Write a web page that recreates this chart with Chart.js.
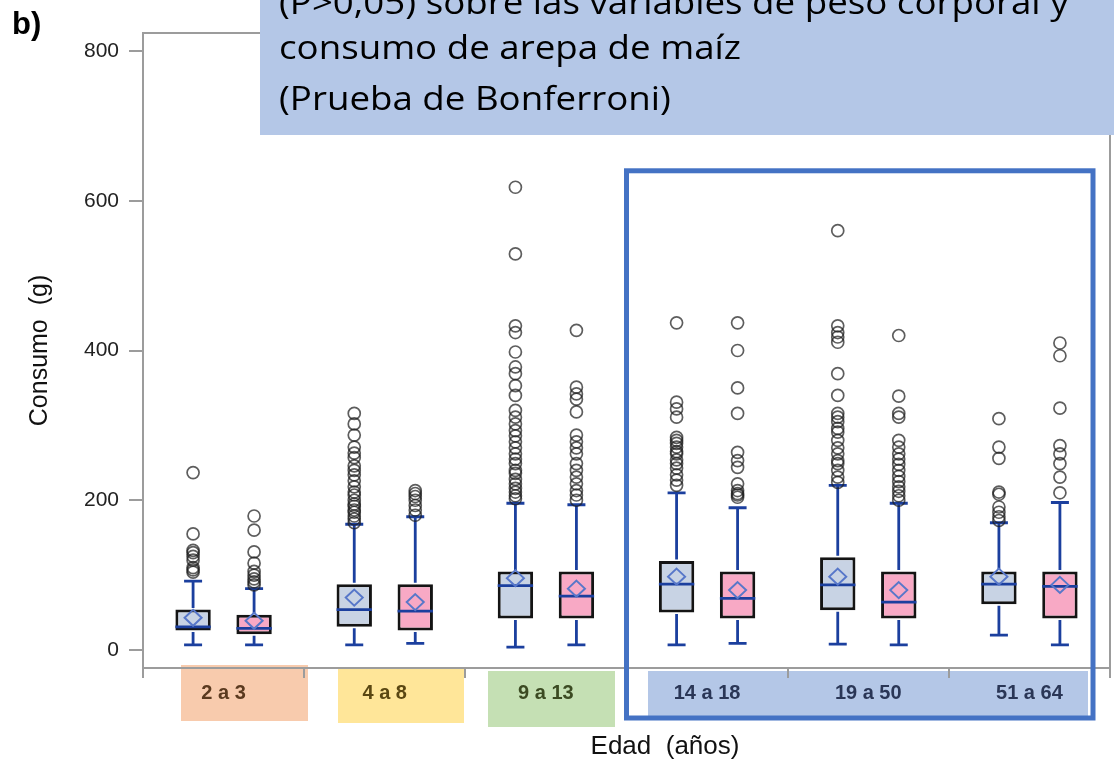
<!DOCTYPE html>
<html>
<head>
<meta charset="utf-8">
<script src="https://cdn.jsdelivr.net/npm/chart.js@4.4.1/dist/chart.umd.min.js"></script>
<style>
  html, body { margin: 0; padding: 0; background: #ffffff; }
  canvas { display: block; }
</style>
</head>
<body>
<canvas id="chart" width="1114" height="764"></canvas>
<script>
// Age groups (x categories)
const groups = ['2 a 3', '4 a 8', '9 a 13', '14 a 18', '19 a 50', '51 a 64'];

// Y axis ticks (g)
const yTicks = [0, 200, 400, 600, 800];

// Males: box statistics per age group (g)
const q1M   = [26, 31, 42, 50, 53, 61];
const medM  = [31, 54, 86, 88, 87, 88];
const q3M   = [54, 88, 105, 119, 124, 105];
const meanM = [43, 70, 96, 98, 98, 98];
const loM   = [7, 7, 4, 7, 8, 20];
const hiM   = [92, 168, 196, 210, 220, 170];
const outM = [
  [104, 107, 110, 120, 125, 130, 133, 155, 237],
  [170, 175, 179, 184, 187, 192, 195, 200, 207, 211, 218, 226, 234, 240, 246, 257, 263, 271, 287, 302, 316],
  [202, 206, 211, 216, 222, 228, 236, 240, 249, 255, 262, 270, 278, 286, 293, 302, 311, 320, 340, 353, 369, 378, 398, 424, 433, 529, 618],
  [220, 227, 234, 243, 249, 254, 262, 265, 271, 276, 280, 284, 311, 322, 331, 437],
  [224, 231, 240, 249, 253, 262, 270, 280, 291, 296, 305, 311, 316, 340, 369, 411, 418, 424, 433, 560],
  [173, 178, 184, 191, 208, 211, 256, 271, 309]
];

// Females: box statistics per age group (g)
const q1F   = [21, 26, 42, 42, 42, 42];
const medF  = [29, 52, 72, 69, 64, 85];
const q3F   = [47, 88, 105, 105, 105, 105];
const meanF = [39, 64, 82, 80, 80, 87];
const loF   = [7, 9, 7, 9, 7, 7];
const hiF   = [82, 178, 194, 190, 196, 197];
const outF = [
  [87, 91, 95, 100, 105, 116, 131, 160, 179],
  [180, 187, 193, 200, 205, 209, 213],
  [200, 207, 213, 222, 231, 240, 249, 262, 270, 278, 287, 318, 335, 342, 351, 427],
  [204, 207, 209, 213, 222, 244, 253, 264, 316, 350, 400, 437],
  [200, 206, 212, 218, 225, 232, 240, 248, 255, 262, 271, 280, 311, 316, 339, 420],
  [210, 231, 249, 262, 273, 323, 393, 410]
];

// Header text
const headerLines = [
  '(P>0,05) sobre las variables de peso corporal y',
  'consumo de arepa de maíz',
  '(Prueba de Bonferroni)'
];

const SANS = '"Liberation Sans", Arial, sans-serif';
const AXIS_GREY = '#9c9c9c';
const WHISKER = '#1b3f9e';
const MEAN_BLUE = '#5777c9';

// Coloured blocks behind the age-group labels
const labelBlocks = [
  { x: 181, y: 665, w: 127, h: 56, color: '#f8cbad' },
  { x: 338, y: 667, w: 126, h: 56, color: '#ffe699' },
  { x: 488, y: 671, w: 127, h: 56, color: '#c5e0b4' },
  { x: 648, y: 671, w: 440, h: 47, color: '#b4c7e7' }
];

const boxPlot = {
  id: 'boxPlot',
  beforeDraw(chart) {
    const c = chart.ctx;
    c.save();
    labelBlocks.forEach(b => {
      c.fillStyle = b.color;
      c.fillRect(b.x, b.y, b.w, b.h);
    });
    c.restore();
  },
  afterDatasetsDraw(chart) {
    const c = chart.ctx;
    const y = chart.scales.y;
    const series = [
      { lo: loM, hi: hiM, q1: q1M, q3: q3M, med: medM, mean: meanM, out: outM },
      { lo: loF, hi: hiF, q1: q1F, q3: q3F, med: medF, mean: meanF, out: outF }
    ];
    c.save();
    series.forEach((s, di) => {
      const meta = chart.getDatasetMeta(di);
      meta.data.forEach((el, i) => {
        const x = el.x;
        const half = el.width / 2;
        const cap = 9;
        const yHi = y.getPixelForValue(s.hi[i]);
        const yLo = y.getPixelForValue(s.lo[i]);
        c.strokeStyle = WHISKER;
        c.lineWidth = 2.8;
        c.lineCap = 'butt';
        // whiskers with caps
        c.beginPath();
        c.moveTo(x, y.getPixelForValue(s.q3[i]) - 1.5);
        c.lineTo(x, yHi);
        c.moveTo(x - cap, yHi);
        c.lineTo(x + cap, yHi);
        c.moveTo(x, y.getPixelForValue(s.q1[i]) + 1.5);
        c.lineTo(x, yLo);
        c.moveTo(x - cap, yLo);
        c.lineTo(x + cap, yLo);
        c.stroke();
        // median
        const ym = y.getPixelForValue(s.med[i]);
        c.beginPath();
        c.moveTo(x - half, ym);
        c.lineTo(x + half, ym);
        c.stroke();
        // mean diamond
        const ya = y.getPixelForValue(s.mean[i]);
        c.strokeStyle = MEAN_BLUE;
        c.lineWidth = 2;
        c.beginPath();
        c.moveTo(x, ya - 8);
        c.lineTo(x + 8.5, ya);
        c.lineTo(x, ya + 8);
        c.lineTo(x - 8.5, ya);
        c.closePath();
        c.stroke();
        // outliers
        c.strokeStyle = 'rgba(30,30,30,0.72)';
        c.lineWidth = 1.7;
        s.out[i].forEach(v => {
          c.beginPath();
          c.arc(x, y.getPixelForValue(v), 6, 0, Math.PI * 2);
          c.stroke();
        });
      });
    });
    c.restore();
  },
  afterDraw(chart) {
    const c = chart.ctx;
    const a = chart.chartArea;
    const x = chart.scales.x;
    const y = chart.scales.y;
    c.save();
    // plot frame: top and right edges
    c.strokeStyle = AXIS_GREY;
    c.lineWidth = 2;
    c.beginPath();
    c.moveTo(a.left, a.top);
    c.lineTo(a.right, a.top);
    c.lineTo(a.right, a.bottom);
    c.stroke();

    // highlight around the three oldest groups
    const step = (a.right - a.left) / groups.length;
    const hx = x.getPixelForValue(3) - step / 2;
    const hy = y.getPixelForValue(640);
    c.strokeStyle = '#4472c4';
    c.lineWidth = 5;
    c.strokeRect(hx, hy, a.right - 17 - hx, a.bottom + 50 - hy);

    // header box
    c.fillStyle = '#b4c7e7';
    c.fillRect(260, 0, chart.width - 260, 135);
    c.fillStyle = '#000000';
    c.font = '33px "Open Sans", "Noto Sans", sans-serif';
    c.textBaseline = 'alphabetic';
    c.textAlign = 'left';
    const sx = 462 / c.measureText(headerLines[1]).width;
    const baselines = [14, 59, 110];
    headerLines.forEach((t, i) => {
      c.save();
      c.translate(279, baselines[i]);
      c.scale(sx, 1);
      c.fillText(t, 0, 0);
      c.restore();
    });

    // panel letter
    c.fillStyle = '#000000';
    c.font = 'bold 31px ' + SANS;
    c.fillText('b)', 12, 34);

    // x axis title
    c.fillStyle = '#111111';
    c.font = '26px ' + SANS;
    c.textAlign = 'center';
    c.textBaseline = 'middle';
    c.fillText('Edad  (años)', 665, 747);
    c.restore();
  }
};

const ctx = document.getElementById('chart').getContext('2d');
new Chart(ctx, {
  type: 'bar',
  data: {
    labels: groups,
    datasets: [
      {
        label: 'Masculino',
        data: q1M.map((v, i) => [v, q3M[i]]),
        backgroundColor: '#c8d3e4',
        borderColor: '#141414',
        borderWidth: 3,
        borderSkipped: false,
        categoryPercentage: 0.757,
        barPercentage: 0.58
      },
      {
        label: 'Femenino',
        data: q1F.map((v, i) => [v, q3F[i]]),
        backgroundColor: '#f8a9c5',
        borderColor: '#141414',
        borderWidth: 3,
        borderSkipped: false,
        categoryPercentage: 0.757,
        barPercentage: 0.58
      }
    ]
  },
  options: {
    responsive: false,
    animation: false,
    devicePixelRatio: 1,
    layout: { padding: { left: 0, right: 4, top: 33, bottom: 0 } },
    plugins: { legend: { display: false }, tooltip: { enabled: false } },
    scales: {
      x: {
        grid: { offset: true, drawOnChartArea: false, tickLength: 10, color: AXIS_GREY, lineWidth: 2 },
        border: { color: AXIS_GREY, width: 2 },
        ticks: {
          font: { family: '"Liberation Sans Narrow", "Liberation Sans", Arial, sans-serif', size: 20, weight: 'bold' },
          color: ['#5b3a1f', '#5a4712', '#3b4a22', '#2a3656', '#2a3656', '#2a3656'],
          padding: 3,
          maxRotation: 0,
          autoSkip: false
        },
        afterFit(scale) { scale.height = 96; }
      },
      y: {
        min: -24,
        max: 824,
        bounds: 'data',
        afterBuildTicks(scale) { scale.ticks = yTicks.map(v => ({ value: v })); },
        ticks: {
          font: { family: SANS, size: 21 },
          color: '#222222',
          padding: 10
        },
        grid: { drawOnChartArea: false, tickLength: 14, color: AXIS_GREY, lineWidth: 2 },
        border: { color: AXIS_GREY, width: 2 },
        title: {
          display: true,
          text: 'Consumo  (g)',
          font: { family: SANS, size: 25 },
          color: '#111111',
          padding: { top: 25, bottom: 0 }
        },
        afterFit(scale) { scale.width = 143; }
      }
    }
  },
  plugins: [boxPlot]
});
</script>
</body>
</html>
